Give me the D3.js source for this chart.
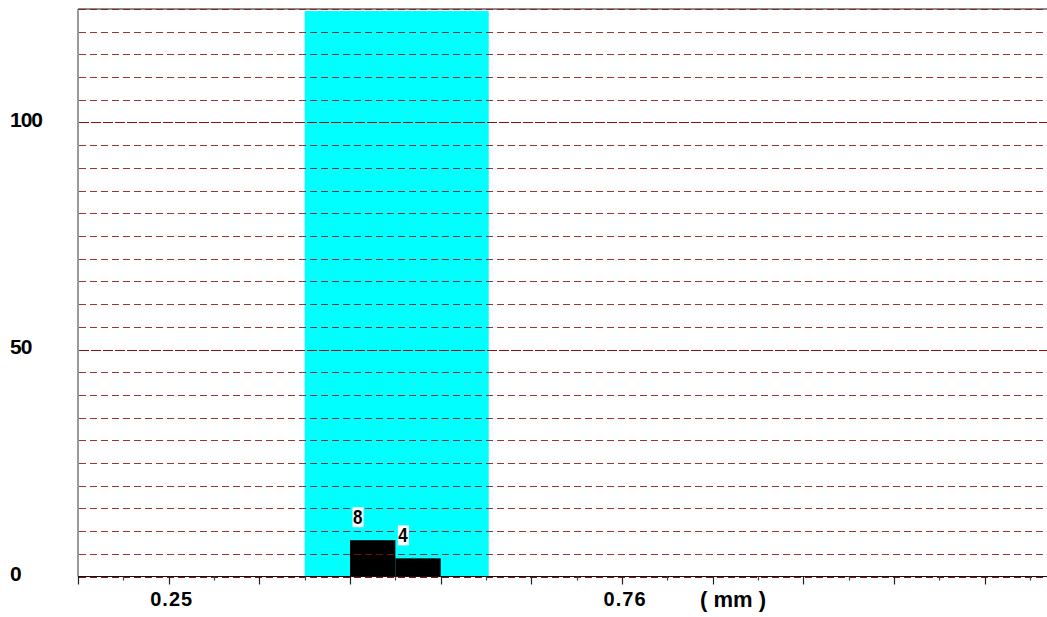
<!DOCTYPE html>
<html>
<head>
<meta charset="utf-8">
<script src="https://cdn.jsdelivr.net/npm/d3@7"></script>
<style>
body { margin: 0; background: #fff; }
text { font-family: "Liberation Sans", Arial, sans-serif; }
</style>
</head>
<body>
<script>
var width = 1047, height = 617;

// histogram bins (mm) and counts
var binStarts = [0.454, 0.505];
var binEnds = [0.505, 0.556];
var counts = [8, 4];
// highlighted tolerance band (mm)
var band = [0.403, 0.610];
var majorTicks = [0.148, 0.250, 0.352, 0.454, 0.556, 0.658, 0.760, 0.862, 0.964, 1.066, 1.168];
var minorTicks = [0.199, 0.301, 0.403, 0.505, 0.607, 0.709, 0.811, 0.913, 1.015, 1.117, 1.219];
var xLabels = [0.25, 0.76];
var yLabels = [0, 50, 100];

var x = d3.scaleLinear().domain([0.148, 1.238]).range([78, 1047]);
var y = d3.scaleLinear().domain([0, 125]).range([576.5, 9]);

var svg = d3.select("body").append("svg")
    .attr("width", width).attr("height", height);

// cyan band
svg.append("rect")
    .attr("x", x(band[0])).attr("y", 11)
    .attr("width", x(band[1]) - x(band[0]))
    .attr("height", y(0) - 11)
    .attr("fill", "#00ffff");

// bars
var bins = binStarts.map(function(s, i){ return {x0: s, x1: binEnds[i], n: counts[i]}; });
svg.selectAll(".bar").data(bins).enter().append("rect").classed("bar", true)
    .attr("x", function(d){ return x(d.x0); })
    .attr("y", function(d){ return y(d.n); })
    .attr("width", function(d){ return x(d.x1) - x(d.x0); })
    .attr("height", function(d){ return y(0) - y(d.n); })
    .attr("fill", "#000");

// frame: top grey line, left axis, bottom axis
svg.append("line").attr("x1", 78).attr("x2", width).attr("y1", y(125)).attr("y2", y(125))
    .attr("stroke", "#666").attr("stroke-width", 1.5);
svg.append("line").attr("x1", 78).attr("x2", 78).attr("y1", y(125)).attr("y2", y(0))
    .attr("stroke", "#555").attr("stroke-width", 1.2);
svg.append("line").attr("x1", 78).attr("x2", width).attr("y1", y(0)).attr("y2", y(0))
    .attr("stroke", "#111").attr("stroke-width", 1.2);

// gridlines every 5
var grid = d3.range(0, 130, 5);
svg.selectAll(".grid").data(grid).enter().append("line").classed("grid", true)
    .attr("x1", 79).attr("x2", width)
    .attr("y1", function(d){ return Math.round(y(d)) + 0.5; })
    .attr("y2", function(d){ return Math.round(y(d)) + 0.5; })
    .attr("stroke", "#8b1010")
    .attr("stroke-opacity", function(d){ return d % 50 === 0 ? 1 : 0.85; })
    .attr("stroke-dasharray", function(d){ return d % 50 === 0 && d > 0 ? "10,2" : "7,4"; })
    .attr("stroke-width", 1.1);

// x ticks
svg.selectAll(".major").data(majorTicks).enter().append("line")
    .attr("x1", function(d){ return Math.round(x(d)) + 0.5; })
    .attr("x2", function(d){ return Math.round(x(d)) + 0.5; })
    .attr("y1", y(0)).attr("y2", y(0) + 8)
    .attr("stroke", "#222").attr("stroke-width", 1.2);
svg.selectAll(".minor").data(minorTicks).enter().append("line")
    .attr("x1", function(d){ return Math.round(x(d)) + 0.5; })
    .attr("x2", function(d){ return Math.round(x(d)) + 0.5; })
    .attr("y1", y(0)).attr("y2", y(0) + 4)
    .attr("stroke", "#444").attr("stroke-width", 1.2);

// x labels
svg.selectAll(".xl").data(xLabels).enter().append("text")
    .attr("x", function(d){ return x(d) + 3; }).attr("y", 606)
    .attr("text-anchor", "middle")
    .style("font-size", "20px").style("font-weight", "bold").style("letter-spacing", "1px")
    .text(function(d){ return d3.format(".2f")(d); });
svg.append("text").attr("x", 700).attr("y", 607)
    .style("font-size", "22px").style("font-weight", "bold")
    .attr("xml:space", "preserve")
    .text("( mm )");

// y labels
svg.selectAll(".yl").data(yLabels).enter().append("text")
    .attr("x", 10).attr("y", function(d){ return y(d) + 4; })
    .style("font-size", "21px").style("font-weight", "bold").style("letter-spacing", "-1px")
    .text(function(d){ return d; });

// value labels with white boxes
var vl = svg.selectAll(".vl").data(bins).enter().append("g")
    .attr("transform", function(d){ return "translate(" + (x(d.x0) + 3) + "," + (y(d.n) - 14) + ")"; });
vl.append("rect").attr("x", -0.5).attr("y", -19).attr("width", 11).attr("height", 20).attr("fill", "#fff");
vl.append("text").attr("x", 0).attr("y", -2).attr("transform", "scale(0.85,1)")
    .style("font-size", "20px").style("font-weight", "bold")
    .text(function(d){ return d.n; });
</script>
</body>
</html>
